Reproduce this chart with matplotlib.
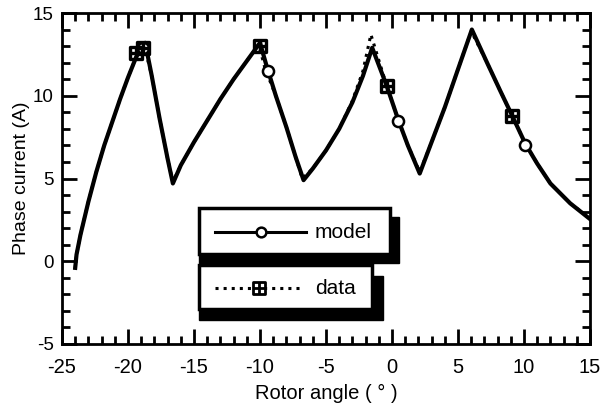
import numpy as np
import matplotlib
matplotlib.use("Agg")
import matplotlib.pyplot as plt
from matplotlib.path import Path
from matplotlib.patches import Rectangle

plt.rcParams['font.family'] = ['Liberation Sans', 'DejaVu Sans']
plt.rcParams['axes.unicode_minus'] = False

# model curve (rotor angle, phase current)
model_x = [-24.0, -23.9, -23.6, -23.0, -22.4, -21.8, -21.2, -20.6, -20.0, -19.4, -18.9, -18.7,
           -18.2, -17.6, -17.0, -16.6,
           -16.0, -15.0, -14.0, -13.0, -12.0, -11.0, -10.0,
           -9.5, -8.8, -8.0, -7.3, -6.7,
           -6.0, -5.0, -4.0, -3.0, -2.2, -1.5,
           -0.4, 0.45, 1.2, 2.1,
           3.0, 4.0, 5.0, 6.05,
           7.2, 8.2, 9.1, 10.1, 11.0, 12.0, 13.5, 15.0]
model_y = [-0.4, 0.4, 1.6, 3.6, 5.4, 7.0, 8.4, 9.8, 11.1, 12.3, 13.1, 13.2,
           11.2, 8.6, 6.2, 4.7,
           5.8, 7.2, 8.5, 9.8, 11.0, 12.1, 13.2,
           11.8, 10.0, 8.1, 6.3, 4.9,
           5.6, 6.7, 8.0, 9.6, 11.2, 12.9,
           10.6, 8.6, 7.0, 5.3,
           7.2, 9.3, 11.6, 14.0,
           12.0, 10.3, 8.8, 7.1, 5.9, 4.7, 3.5, 2.55]

# measured data curve
data_x = [-24.0, -23.9, -23.6, -23.0, -22.4, -21.8, -21.2, -20.6, -20.0, -19.4, -19.0, -18.8,
          -18.2, -17.6, -17.0, -16.6,
          -16.0, -15.0, -14.0, -13.0, -12.0, -11.0, -10.1,
          -9.6, -8.8, -8.0, -7.3, -6.8,
          -6.0, -5.0, -4.0, -3.0, -2.2, -1.6,
          -0.4, 0.45, 1.2, 2.1,
          3.0, 4.0, 5.0, 6.0,
          7.2, 8.2, 9.1, 10.1, 11.0, 12.0, 13.5, 15.0]
data_y = [-0.4, 0.4, 1.6, 3.6, 5.4, 7.0, 8.4, 9.8, 11.1, 12.3, 12.9, 13.1,
          11.2, 8.6, 6.2, 4.8,
          5.8, 7.2, 8.5, 9.8, 11.0, 12.1, 13.1,
          11.6, 10.0, 8.1, 6.3, 5.0,
          5.6, 6.7, 8.0, 9.7, 11.5, 13.7,
          10.6, 8.6, 7.0, 5.4,
          7.2, 9.3, 11.6, 13.9,
          12.0, 10.3, 8.8, 7.1, 5.9, 4.7, 3.5, 2.6]

# marker positions
model_mx = [-18.9, -9.4, 0.45, 10.1]
model_my = [12.9, 11.5, 8.5, 7.0]
data_mx = [-19.4, -18.9, -10.0, -0.4, 9.1]
data_my = [12.6, 12.9, 13.0, 10.6, 8.8]

# square with a cross inside
sq_cross = Path([(-1, -1), (1, -1), (1, 1), (-1, 1), (-1, -1), (0, -1), (0, 1), (-1, 0), (1, 0)],
                [Path.MOVETO, Path.LINETO, Path.LINETO, Path.LINETO, Path.CLOSEPOLY,
                 Path.MOVETO, Path.LINETO, Path.MOVETO, Path.LINETO])

fig = plt.figure(figsize=(6.09, 4.05), dpi=100)
ax = fig.add_axes([62 / 609, 1 - 344 / 405, 528 / 609, 331 / 405])

ax.plot(model_x, model_y, '-', color='black', lw=3)
ax.plot(data_x, data_y, ':', color='black', lw=2.2)
ax.plot(model_mx, model_my, 'o', ms=8, mfc='white', mec='black', mew=1.8)
ax.plot(data_mx, data_my, linestyle='none', marker=sq_cross, ms=9, mfc='none', mec='black', mew=2.4)

ax.set_xlim(-25, 15)
ax.set_ylim(-5, 15)
ax.set_xticks(np.arange(-25, 16, 5))
ax.set_yticks(np.arange(-5, 16, 5))
ax.set_xticks(np.arange(-25, 16, 1), minor=True)
ax.set_yticks(np.arange(-5, 16, 1), minor=True)
ax.tick_params(which='both', direction='in', top=True, right=True, width=2, color='black')
ax.tick_params(which='major', length=11)
ax.tick_params(which='minor', length=6)
ax.tick_params(axis='x', which='major', labelsize=14.5, pad=10)
ax.tick_params(axis='y', which='major', labelsize=13.5, pad=6)
for s in ax.spines.values():
    s.set_linewidth(2)

ax.set_xlabel('Rotor angle ( ° )', fontsize=14.5, labelpad=5)
ax.set_ylabel('Phase current (A)', fontsize=14, labelpad=2)


# legend drawn as two shadowed boxes (pixel -> axes fraction)
def px(x, y):
    return (x - 62) / 528, (344 - y) / 331


def box(x0, y0, x1, y1, sh):
    a = px(x0, y1 + sh)
    b = px(x1 + sh, y0 + sh)
    ax.add_patch(Rectangle(a, b[0] - a[0], b[1] - a[1], transform=ax.transAxes,
                           facecolor='black', edgecolor='black', zorder=5))
    a = px(x0, y1)
    b = px(x1, y0)
    ax.add_patch(Rectangle(a, b[0] - a[0], b[1] - a[1], transform=ax.transAxes,
                           facecolor='white', edgecolor='black', lw=2.5, zorder=6))


box(199, 208, 390, 254, 9)
box(199, 265, 372, 309, 11)

lx0, ly = px(215, 232)
lx1, _ = px(306, 232)
lxm, _ = px(261, 232)
ax.plot([lx0, lx1], [ly, ly], '-', color='black', lw=2.2, transform=ax.transAxes, zorder=7)
ax.plot([lxm], [ly], 'o', ms=7, mfc='white', mec='black', mew=1.8, transform=ax.transAxes, zorder=8)
tx, _ = px(315, 232)
ax.text(tx, ly, 'model', fontsize=15, va='center', ha='left', transform=ax.transAxes, zorder=8)

lx0, ly = px(215, 288)
lx1, _ = px(303, 288)
lxm, _ = px(259, 288)
ax.plot([lx0, lx1], [ly, ly], ':', color='black', lw=2.2, transform=ax.transAxes, zorder=7)
ax.plot([lxm], [ly], linestyle='none', marker=sq_cross, ms=8, mfc='white', mec='black', mew=2,
        transform=ax.transAxes, zorder=8)
tx, _ = px(315, 288)
ax.text(tx, ly, 'data', fontsize=15, va='center', ha='left', transform=ax.transAxes, zorder=8)

fig.savefig('out.png', dpi=100)
